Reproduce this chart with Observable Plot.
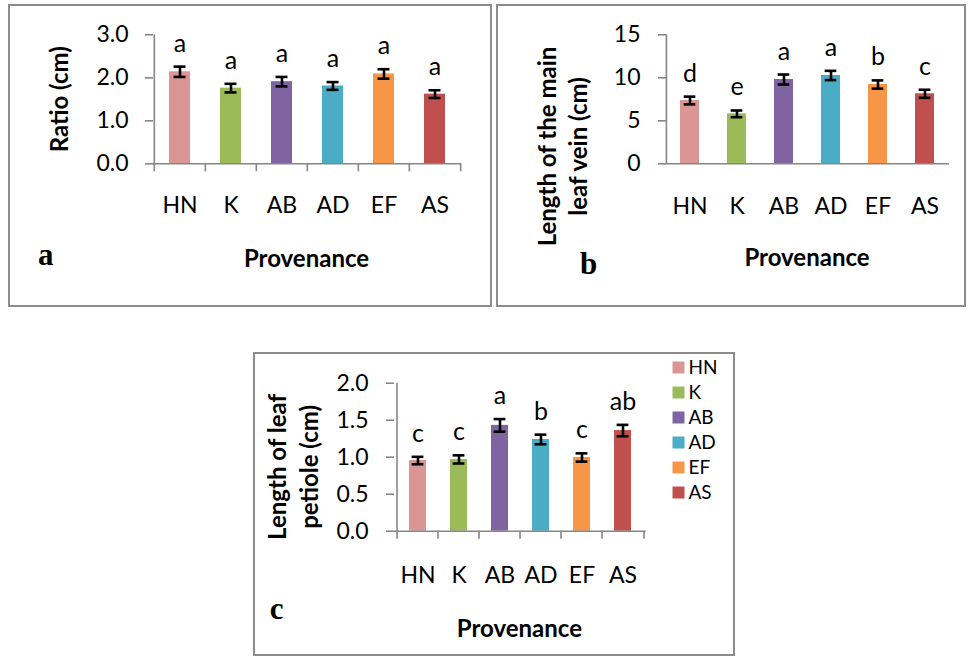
<!DOCTYPE html>
<html><head><meta charset="utf-8">
<script src="https://cdn.jsdelivr.net/npm/d3@7"></script>
<script src="https://cdn.jsdelivr.net/npm/@observablehq/plot@0.6"></script>
<style>
html,body{margin:0;padding:0;background:#fff;}
#fig{position:relative;width:968px;height:657px;overflow:hidden;font-family:Lato,sans-serif;background:#fff;}
.panel{position:absolute;border:2px solid #8c8c8c;box-sizing:border-box;}
.panel svg{position:absolute;left:0;top:0;overflow:visible;}
</style></head><body>
<div id="fig">
<div class="panel" id="pa" style="left:8px;top:4px;width:484px;height:303px"></div>
<div class="panel" id="pb" style="left:496px;top:4px;width:470px;height:303px"></div>
<div class="panel" id="pc" style="left:253px;top:352px;width:482px;height:304px"></div>
</div>
<script>
const provenances = ["HN", "K", "AB", "AD", "EF", "AS"];
const colors = ["#D99694", "#9BBB59", "#8064A2", "#4BACC6", "#F79646", "#C0504D"];

const ratioMean = [2.14, 1.76, 1.91, 1.81, 2.09, 1.62];
const ratioSE = [0.12, 0.10, 0.11, 0.09, 0.11, 0.09];
const ratioLetters = ["a", "a", "a", "a", "a", "a"];
const ratioTicks = [0, 1, 2, 3];

const veinMean = [7.36, 5.81, 9.80, 10.27, 9.22, 8.14];
const veinSE = [0.45, 0.39, 0.58, 0.54, 0.48, 0.47];
const veinLetters = ["d", "e", "a", "a", "b", "c"];
const veinTicks = [0, 5, 10, 15];

const petioleMean = [0.955, 0.97, 1.43, 1.24, 0.996, 1.36];
const petioleSE = [0.05, 0.055, 0.085, 0.065, 0.056, 0.077];
const petioleLetters = ["c", "c", "a", "b", "c", "ab"];
const petioleTicks = [0, 0.5, 1, 1.5, 2];

const xTitle = "Provenance";
const gray = "#868686";

function panel(o) {
  const rows = provenances.map((p, i) => ({p, m: o.mean[i], se: o.se[i], l: o.letters[i]}));
  const step = (o.width - o.ml - o.mr) / provenances.length;
  const bw = step * 0.41;
  const capInset = Math.max(0, (bw - 12) / 2);
  const frameH = o.height - o.mt - o.mb;
  const last = provenances[provenances.length - 1];
  const marks = [
    Plot.barY(rows, {x: "p", y: "m", fill: "p"}),
    Plot.ruleY([0], {stroke: gray, strokeWidth: 1.6}),
    Plot.ruleX([provenances[0]], {x: d => d, dx: -step / 2, stroke: gray, strokeWidth: 1.6}),
    Plot.ruleX(rows, {x: "p", y1: d => d.m - d.se, y2: d => d.m + d.se, stroke: "black", strokeWidth: 2.6}),
    Plot.tickY(rows, {x: "p", y: d => d.m - d.se, insetLeft: capInset, insetRight: capInset, stroke: "black", strokeWidth: 2.6}),
    Plot.tickY(rows, {x: "p", y: d => d.m + d.se, insetLeft: capInset, insetRight: capInset, stroke: "black", strokeWidth: 2.6}),
    Plot.text(rows, {x: "p", y: d => d.m + d.se, text: "l", dy: -15, lineAnchor: "bottom", fontSize: 25, fill: "black"}),
    Plot.axisY({ticks: o.ticks, tickFormat: o.fmt, tickSize: 8, tickPadding: o.ytp, stroke: gray, strokeWidth: 1.6, fill: "black", fontSize: 23, label: null}),
    Plot.axisX({tickSize: 0, tickPadding: o.xtp, fill: "black", fontSize: 23, label: null}),
    Plot.text([xTitle], {text: d => d, frameAnchor: "bottom", textAnchor: "middle", dx: -1, dy: o.xtDy, lineAnchor: "bottom", fontWeight: "bold", fontSize: 24, fill: "black"}),
    Plot.text([o.ytitle], {text: d => d, frameAnchor: "left", textAnchor: "middle", rotate: -90, dx: o.ytDx, dy: o.ytDy, lineAnchor: "bottom", lineHeight: o.lh, fontWeight: "bold", fontSize: 24, fill: "black"}),
    Plot.text([o.tag], {text: d => d, frameAnchor: "bottom-left", textAnchor: "start", lineAnchor: "bottom", dx: o.tagDx, dy: o.tagDy, fontFamily: "Liberation Serif", fontWeight: "bold", fontSize: 31, fill: "black"})
  ];
  if (o.xticks) {
    marks.push(Plot.ruleX(provenances, {x: d => d, dx: -step / 2, insetTop: frameH, insetBottom: -8, stroke: gray, strokeWidth: 1.6}));
    marks.push(Plot.ruleX([last], {x: d => d, dx: step / 2, insetTop: frameH, insetBottom: -8, stroke: gray, strokeWidth: 1.6}));
  }
  return Plot.plot({
    width: o.width, height: o.height,
    marginLeft: o.ml, marginRight: o.mr, marginTop: o.mt, marginBottom: o.mb,
    style: {fontFamily: "Lato, sans-serif", overflow: "visible", background: "transparent", color: "black"},
    x: {domain: provenances, paddingInner: 0.59, paddingOuter: 0.295, axis: null},
    y: {domain: o.domain, axis: null},
    color: {domain: provenances, range: colors},
    marks
  });
}

const f1 = d3.format(".1f");
document.getElementById("pa").append(panel({
  width: 480, height: 299, ml: 143, mr: 29, mt: 28.3, mb: 141.7,
  mean: ratioMean, se: ratioSE, letters: ratioLetters, ticks: ratioTicks, domain: [0, 3], fmt: f1,
  ytp: 17, xtp: 32.4, xtDy: 102.7, ytitle: "Ratio (cm)", ytDx: -85.5, ytDy: 0, lh: 1.2,
  tag: "a", tagDx: -115.5, tagDy: 100.7, xticks: true
}));
document.getElementById("pb").append(panel({
  width: 466, height: 299, ml: 168, mr: 15, mt: 28.3, mb: 141.7,
  mean: veinMean, se: veinSE, letters: veinLetters, ticks: veinTicks, domain: [0, 15], fmt: d3.format("d"),
  ytp: 18, xtp: 33.7, xtDy: 102.4, ytitle: "Length of the main\nleaf vein (cm)", ytDx: -80, ytDy: 47.2, lh: 1.28,
  tag: "b", tagDx: -86.5, tagDy: 109.7, xticks: false
}));
document.getElementById("pc").append(panel({
  width: 478, height: 300, ml: 139, mr: 87.3, mt: 28.7, mb: 123.3,
  mean: petioleMean, se: petioleSE, letters: petioleLetters, ticks: petioleTicks, domain: [0, 2], fmt: f1,
  ytp: 18, xtp: 35.3, xtDy: 105.3, ytitle: "Length of leaf\npetiole (cm)", ytDx: -76.2, ytDy: 9.7, lh: 1.35,
  tag: "c", tagDx: -124.7, tagDy: 87.6, xticks: true
}));

const legend = Plot.plot({
  width: 70, height: 150, margin: 0,
  style: {fontFamily: "Lato, sans-serif", overflow: "visible", background: "transparent", color: "black"},
  x: {axis: null},
  y: {type: "point", domain: provenances, range: [11.8, 138.3], padding: 0, axis: null},
  color: {domain: provenances, range: colors},
  marks: [
    Plot.dot(provenances, {y: d => d, fill: d => d, symbol: "square", r: 6.77, frameAnchor: "left", dx: 6}),
    Plot.text(provenances, {y: d => d, text: d => d, frameAnchor: "left", dx: 16, textAnchor: "start", fontSize: 19, fill: "black"})
  ]
});
legend.style.left = "417px";
legend.style.top = "0px";
document.getElementById("pc").append(legend);
</script>
</body></html>
